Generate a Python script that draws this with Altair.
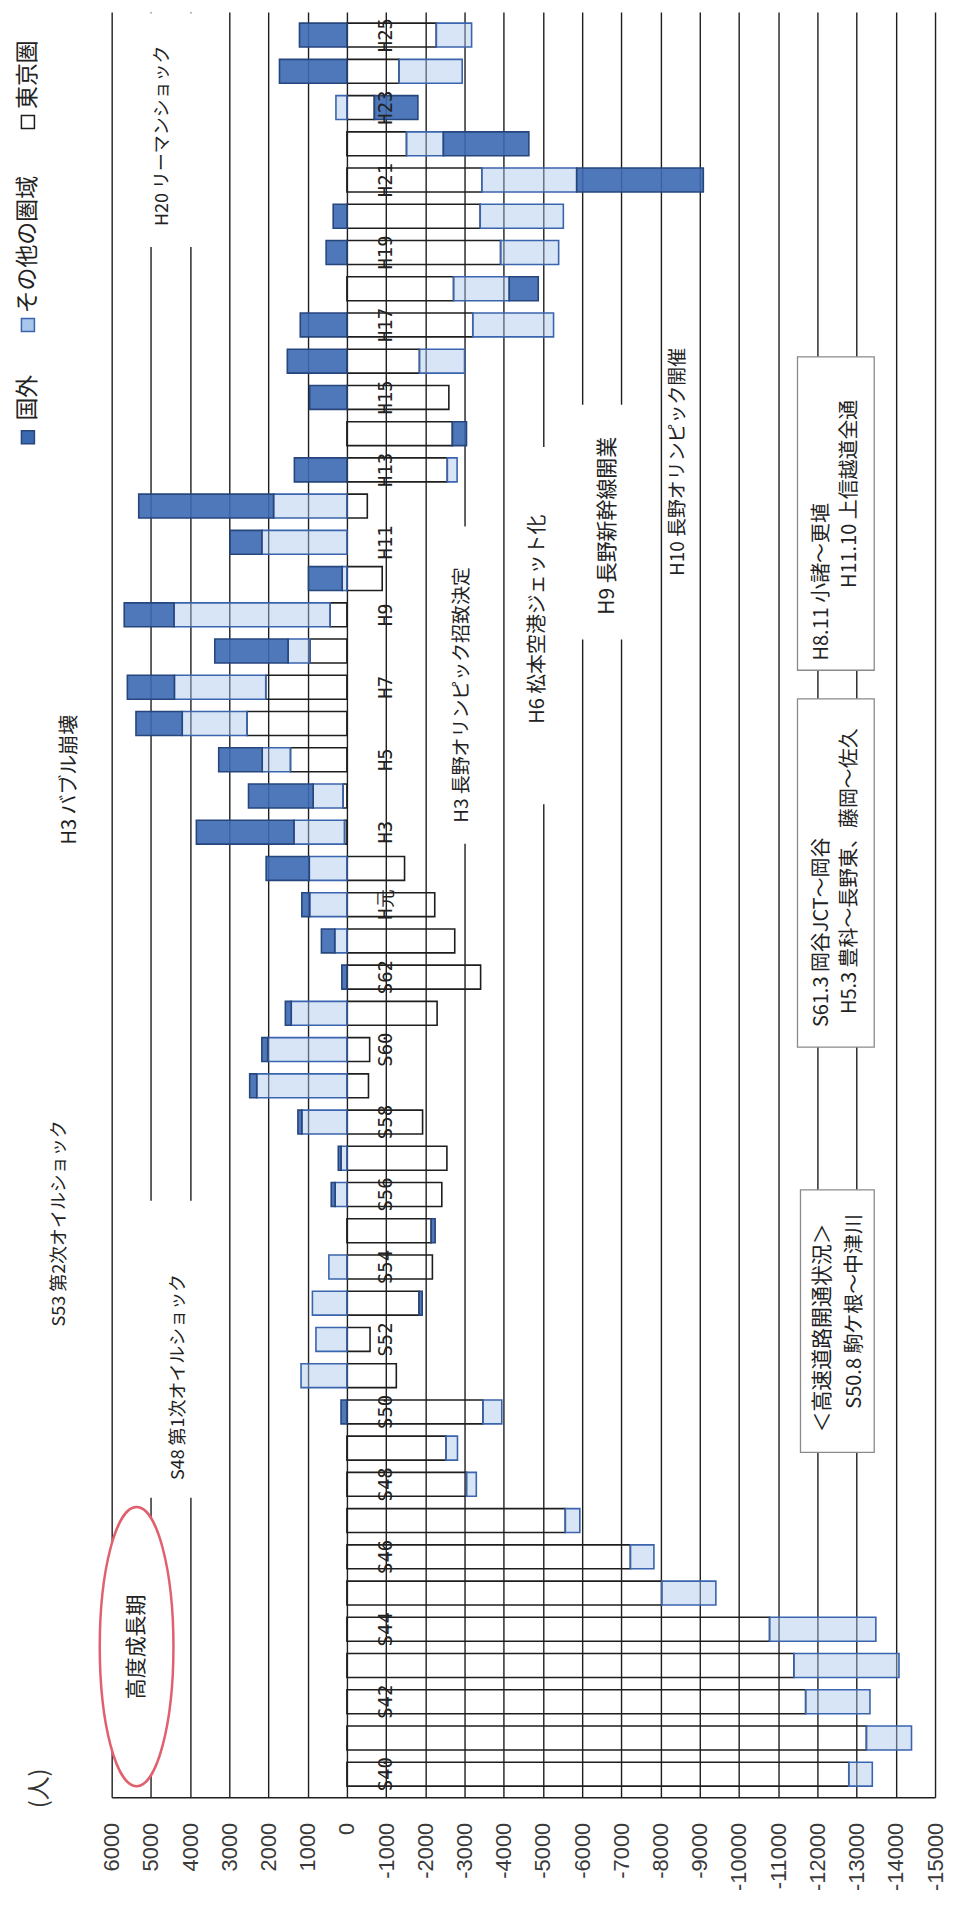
import altair as alt
import pandas as pd

# ---------------- data ----------------
labels = [f"S{n}" for n in range(40, 64)] + ["H元"] + [f"H{n}" for n in range(2, 26)]

tokyo = [-12800, -13250, -11700, -11400, -10780, -8030, -7230, -5570, -3050, -2530,
         -3470, -1260, -590, -1840, -2180, -2150, -2420, -2550, -1930, -550,
         -580, -2300, -3410, -2750, -2240, -1470, 60, 100, 1440, 2550,
         2070, 940, 430, -900, 0, -520, -2560, -2690, -2600, -1850,
         -3210, -2720, -3920, -3400, -3440, -1520, -700, -1330, -2280]

other = [-600, -1150, -1640, -2680, -2710, -1380, -600, -370, -250, -290,
         -480, 1170, 790, 880, 460, 0, 300, 150, 1150, 2300,
         2020, 1420, 0, 310, 950, 960, 1290, 760, 720, 1650,
         2330, 560, 3980, 120, 2170, 1870, -250, 0, 0, -1150,
         -2060, -1420, -1480, -2120, -2420, -940, 280, -1610, -900]

abroad = [0, 0, 0, 0, 0, 0, 0, 0, 0, 0,
          150, 0, 0, -80, 0, -100, 100, 70, 100, 180,
          150, 150, 130, 340, 200, 1100, 2490, 1650, 1110, 1180,
          1200, 1870, 1270, 860, 810, 3440, 1340, -360, 950, 1520,
          1190, -740, 530, 350, -3230, -2180, -1110, 1720, 1210]

series_names = ["東京圏", "その他の圏域", "国外"]
tick_values = list(range(-15000, 6001, 1000))

# ---------------- tables ----------------
rows = []
for i, lab in enumerate(labels):
    for k, (name, arr) in enumerate(zip(series_names, [tokyo, other, abroad])):
        rows.append({"label": lab, "year": 1965 + i, "series": name, "ord": k, "value": arr[i]})
df = pd.DataFrame(rows)

lab_df = pd.DataFrame({"label": labels, "year": [1965 + i for i in range(len(labels))]})
lab_df = lab_df[lab_df.index % 2 == 0]

# annotation layout (text, x in value units, y in year units at text start, font size)
annotations = pd.DataFrame([
    ("H20 リーマンショック", 4703, 2007.73, 18),
    ("S53 第2次オイルショック", 7322, 1977.36, 18),
    ("S48 第1次オイルショック", 4271, 1973.12, 18),
    ("H3 バブル崩壊", 7068, 1990.66, 20),
    ("H3 長野オリンピック招致決定", -2924, 1991.26, 19),
    ("H6 松本空港ジェット化", -4881, 1993.99, 20),
    ("H9 長野新幹線開業", -6661, 1997.0, 21),
    ("H10 長野オリンピック開催", -8441, 1998.07, 19),
    ("＜高速道路開通状況＞", -12153, 1974.43, 21),
    ("S50.8 駒ケ根〜中津川", -12966, 1975.09, 20),
    ("S61.3  岡谷JCT〜岡谷", -12127, 1985.62, 20),
    ("H5.3 豊科〜長野東、藤岡〜佐久", -12839, 1985.98, 20),
    ("H8.11 小諸〜更埴", -12127, 1995.74, 20),
    ("H11.10  上信越道全通", -12839, 1997.74, 20),
    ("高度成長期", 5364, 1967.07, 21),
], columns=["text", "xv", "yv", "fs"])

masks = pd.DataFrame([
    (5160, 3840, 2007.15, 2013.6),
    (5160, 3840, 1972.63, 1980.83),
    (-2542, -3305, 1990.68, 1999.44),
    (-4500, -5263, 1991.77, 2001.63),
    (-5644, -7678, 1996.32, 2002.8),
], columns=["x1", "x2", "y1", "y2"])

boxes = pd.DataFrame([
    (-11568, -13449, 1973.88, 1981.13),
    (-11492, -13449, 1985.07, 1994.68),
    (-11492, -13449, 1995.47, 2004.12),
], columns=["x1", "x2", "y1", "y2"])

legend_sq = pd.DataFrame({"series": ["国外", "その他の圏域", "東京圏"],
                          "xv": [8136] * 3, "yv": [2001.9, 2005.0, 2010.6]})
legend_tx = pd.DataFrame({"text": ["国外", "その他の圏域", "東京圏"],
                          "xv": [8136] * 3, "yv": [2002.36, 2005.32, 2010.96]})

# ---------------- scales / axis ----------------
x_scale = alt.Scale(domain=[-15000, 6000], reverse=True, nice=False, zero=False)
y_scale = alt.Scale(domain=[1964.5, 2013.5], nice=False, zero=False)
fill_scale = alt.Scale(domain=series_names, range=["#ffffff", "#a9c6ec", "#3b69b1"])
stroke_scale = alt.Scale(domain=series_names, range=["#1e1e1e", "#3a64ad", "#27467e"])
op_scale = alt.Scale(domain=series_names, range=[0.0, 0.9, 1.0])

x_axis = alt.Axis(
    values=tick_values, grid=True, gridColor="#1e1e1e", gridWidth=1.4, gridOpacity=1,
    domain=True, domainColor="#1e1e1e", domainWidth=1.4, ticks=False,
    labelAngle=270, labelAlign="right", labelBaseline="middle", labelFontSize=22,
    labelFont="Liberation Sans", labelColor="#3a3a3a", labelPadding=25,
    labelExpr="'' + datum.value",
    labelOverlap=False, labelFlush=False, title=None)


def X(field):
    return alt.X(field, scale=x_scale, axis=x_axis)


def Y(field):
    return alt.Y(field, scale=y_scale, axis=None)


JP = "Noto Sans CJK JP"

bars = alt.Chart(df).transform_filter("datum.value != 0").transform_stack(
    stack="value", groupby=["year"], as_=["v0", "v1"],
    sort=[alt.SortField("ord", order="ascending")], offset="zero"
).mark_bar(size=24, orient="horizontal", strokeWidth=1.6).encode(
    x=X("v0:Q"),
    x2="v1:Q",
    y=Y("year:Q"),
    fill=alt.Fill("series:N", scale=fill_scale, legend=None),
    stroke=alt.Stroke("series:N", scale=stroke_scale, legend=None),
    fillOpacity=alt.FillOpacity("series:N", scale=op_scale, legend=None),
)

mask_layer = alt.Chart(masks).mark_rect(fill="white", strokeWidth=0).encode(
    x=X("x1:Q"), x2="x2:Q", y=Y("y1:Q"), y2="y2:Q")

box_layer = alt.Chart(boxes).mark_rect(fill="white", stroke="#8a8a8a", strokeWidth=1.3).encode(
    x=X("x1:Q"), x2="x2:Q", y=Y("y1:Q"), y2="y2:Q")

ellipse = alt.Chart(pd.DataFrame({"xv": [5364], "yv": [1968.52]})).mark_point(
    shape="M0,-1 A0.264,1 0 1,1 0,1 A0.264,1 0 1,1 0,-1 Z",
    size=78400, filled=True, fill="white", stroke="#e0606e", strokeWidth=2.5, opacity=1
).encode(x=X("xv:Q"), y=Y("yv:Q"))

year_text = alt.Chart(lab_df).mark_text(
    angle=270, align="center", baseline="middle", font="DejaVu Sans Mono", fontSize=19, color="#222222"
).transform_calculate(xv="-1000").encode(x=X("xv:Q"), y=Y("year:Q"), text="label:N")

ann_text = alt.Chart(annotations).mark_text(
    angle=270, align="left", baseline="middle", font=JP, color="#222222"
).encode(x=X("xv:Q"), y=Y("yv:Q"), text="text:N", size=alt.Size("fs:Q", scale=None))

unit_text = alt.Chart(pd.DataFrame({"t": ["(人)"], "xv": [7830], "yv": [1964.61]})).mark_text(
    angle=270, align="center", baseline="middle", font=JP, fontSize=24, color="#333333"
).encode(x=X("xv:Q"), y=Y("yv:Q"), text="t:N")

leg_sq = alt.Chart(legend_sq).mark_point(shape="square", filled=True, size=170, strokeWidth=1.5, opacity=1).encode(
    x=X("xv:Q"), y=Y("yv:Q"),
    fill=alt.Fill("series:N", scale=fill_scale, legend=None),
    stroke=alt.Stroke("series:N", scale=stroke_scale, legend=None))

leg_tx = alt.Chart(legend_tx).mark_text(
    angle=270, align="left", baseline="middle", font=JP, fontSize=23, color="#222222"
).encode(x=X("xv:Q"), y=Y("yv:Q"), text="text:N")

chart = alt.layer(
    bars, mask_layer, box_layer, ellipse, year_text, ann_text, unit_text, leg_sq, leg_tx
).properties(
    width=826, height=1791,
    autosize=alt.AutoSizeParams(type="none"),
    padding={"left": 104, "top": 1, "right": 12, "bottom": 100},
    background="white",
).configure_view(stroke=None)

chart.save("out.html", embed_options={"renderer": "svg", "actions": False})
